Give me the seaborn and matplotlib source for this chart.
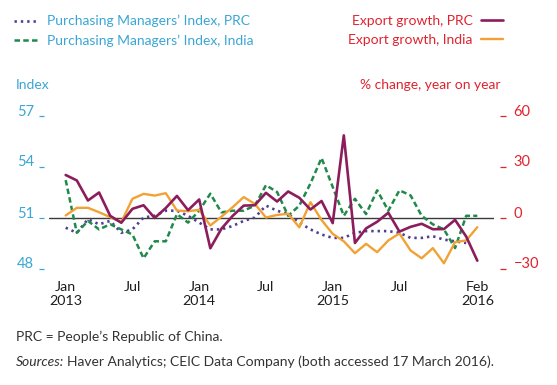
import numpy as np
import pandas as pd
import matplotlib
matplotlib.use("Agg")
import matplotlib.pyplot as plt
from matplotlib.lines import Line2D
import seaborn as sns

# monthly, Jan 2013 - Feb 2016
months = pd.date_range("2013-01-01", "2016-02-01", freq="MS")

pmi_prc = [50.4, 50.1, 50.9, 50.6, 50.8, 50.1, 50.3, 51.0, 51.1, 51.4, 51.4, 51.1,
           50.7, 50.3, 50.3, 50.5, 50.8, 51.0, 51.7, 51.4, 51.2, 50.7, 50.3, 50.0,
           49.8, 49.8, 50.1, 50.2, 50.2, 50.2, 50.1, 49.8, 49.8, 49.9, 49.7, 49.6,
           49.5, np.nan]
pmi_india = [53.2, 50.1, 50.8, 50.3, 50.6, 50.3, 50.0, 48.6, 49.6, 49.6, 51.2, 50.7,
             51.4, 52.4, 51.3, 51.4, 51.4, 51.7, 52.9, 52.5, 51.1, 51.7, 53.0, 54.5,
             52.8, 51.1, 52.1, 51.2, 52.6, 51.4, 52.6, 52.3, 51.1, 50.6, 50.3, 49.2,
             51.1, 51.1]
exp_prc = [25.0, 21.8, 10.0, 14.7, 1.0, -3.1, 5.1, 7.2, -0.3, 5.6, 12.7, 4.3,
           10.6, -18.1, -6.6, 0.9, 7.0, 7.2, 14.5, 9.4, 15.3, 11.6, 4.7, 9.7,
           -3.3, 48.3, -15.0, -6.4, -2.5, 2.8, -8.3, -5.5, -3.7, -6.9, -6.8, -1.4,
           -11.2, -25.4]
exp_india = [1.2, 5.7, 5.7, 3.1, 0.2, -2.7, 11.0, 13.9, 12.9, 14.3, 4.1, 3.7,
             4.5, -4.7, 0.5, 6.0, 12.0, 8.0, 0.0, 1.5, 2.2, -5.8, 9.0, -1.5,
             -9.6, -14.0, -21.0, -15.5, -20.4, -13.5, -9.4, -19.4, -24.0, -18.0, -26.9, -14.5,
             -13.5, -5.7]

tick_months = [0, 6, 12, 18, 24, 30, 37]
tick_labels = ["Jan\n2013", "Jul", "Jan\n2014", "Jul", "Jan\n2015", "Jul", "Feb\n2016"]
left_ticks = [48, 51, 54, 57]
right_ticks = [-30, 0, 30, 60]

df = pd.DataFrame({"m": np.arange(len(months)), "pmi_prc": pmi_prc, "pmi_india": pmi_india,
                   "exp_prc": exp_prc, "exp_india": exp_india})

sns.set_theme(style="white")
plt.rcParams["font.family"] = ["Lato", "DejaVu Sans"]

BLUE = "#3aa6d6"
RED = "#e0232e"
C_PMI_PRC = "#4f3f94"
C_PMI_IND = "#1f8a4a"
C_EXP_PRC = "#8c1d5d"
C_EXP_IND = "#f2a234"
FS = 10

W, H = 557, 385
fig = plt.figure(figsize=(W / 100, H / 100), dpi=100)
ax = fig.add_axes([49 / W, 1 - 277 / H, 445 / W, 170 / H])
ax2 = ax.twinx()

dot_ls = (0, (0.9, 1.5))
dash_ls = (0, (2.2, 1.3))

sns.lineplot(data=df, x="m", y="pmi_prc", ax=ax, color=C_PMI_PRC, lw=1.9,
             linestyle=dot_ls, estimator=None)
sns.lineplot(data=df, x="m", y="pmi_india", ax=ax, color=C_PMI_IND, lw=1.8,
             linestyle=dash_ls, estimator=None)
ax.axhline(51, color="#3a3a3a", lw=1.0, zorder=1)

sns.lineplot(data=df, x="m", y="exp_india", ax=ax2, color=C_EXP_IND, lw=1.7, estimator=None)
sns.lineplot(data=df, x="m", y="exp_prc", ax=ax2, color=C_EXP_PRC, lw=1.9, estimator=None)

ax.set_xlim(-1.5, 38.5)
ax.set_ylim(47.5, 57.5)
ax2.set_ylim(-35, 65)
for a in (ax, ax2):
    a.set_xlabel("")
    a.set_ylabel("")
    for s in a.spines.values():
        s.set_visible(False)
    a.grid(False)
    a.patch.set_visible(False)

ax.spines["left"].set_position(("outward", 3.6))
ax2.spines["right"].set_position(("outward", 4.3))

ax.set_xticks(tick_months)
ax.set_xticklabels(tick_labels, fontsize=FS + 0.3, color="#1e1e1e", linespacing=1.2)
ax.tick_params(axis="x", length=0, pad=3)

ax.set_yticks(left_ticks)
ax.set_yticklabels([str(t) for t in left_ticks], fontsize=FS + 0.5, color=BLUE)
ax.tick_params(axis="y", left=True, right=False, direction="out", length=3.6,
               width=0.9, color=BLUE, pad=3.6)
for lab in ax.get_yticklabels():
    lab.set_va("baseline")

ax2.set_yticks(right_ticks)
ax2.set_yticklabels([str(t).replace("-", "\u2212") for t in right_ticks],
                    fontsize=FS + 0.5, color=RED)
ax2.tick_params(axis="y", right=True, left=False, direction="out", length=4.3,
                width=0.9, color=RED, pad=5.5)
for lab in ax2.get_yticklabels():
    lab.set_va("baseline")

# legends
left_h = [Line2D([], [], color=C_PMI_PRC, lw=1.9, linestyle=dot_ls),
          Line2D([], [], color=C_PMI_IND, lw=1.8, linestyle=dash_ls)]
fig.legend(left_h, ["Purchasing Managers\u2019 Index, PRC",
                    "Purchasing Managers\u2019 Index, India"],
           loc="upper left", bbox_to_anchor=(14 / W, 1 - 15 / H), frameon=False,
           fontsize=FS, handlelength=1.75, handletextpad=0.6, labelspacing=0.5,
           borderpad=0, borderaxespad=0, labelcolor=BLUE)
right_h = [Line2D([], [], color=C_EXP_PRC, lw=1.9), Line2D([], [], color=C_EXP_IND, lw=1.7)]
fig.legend(right_h, ["Export growth, PRC", "Export growth, India"],
           loc="upper right", bbox_to_anchor=(503 / W, 1 - 15 / H), frameon=False,
           fontsize=FS, handlelength=1.6, handletextpad=0.6, labelspacing=0.5,
           borderpad=0, borderaxespad=0, labelcolor=RED, markerfirst=False)

fig.text(16 / W, 1 - 85 / H, "Index", color=BLUE, fontsize=FS, va="center")
fig.text(501 / W, 1 - 85 / H, "% change, year on year", color=RED, fontsize=FS,
         va="center", ha="right")

fig.text(16 / W, 1 - 337 / H, "PRC = People\u2019s Republic of China.", color="#333333",
         fontsize=FS, va="center")
t1 = fig.text(16 / W, 1 - 362 / H, "Sources:", color="#333333", fontsize=FS,
              va="center", style="italic")
r = fig.canvas.get_renderer()
bb = t1.get_window_extent(renderer=r)
fig.text(bb.x1 / W + 3 / W, 1 - 362 / H,
         "Haver Analytics; CEIC Data Company (both accessed 17 March 2016).",
         color="#333333", fontsize=FS, va="center")

fig.savefig("out.png", dpi=100)
